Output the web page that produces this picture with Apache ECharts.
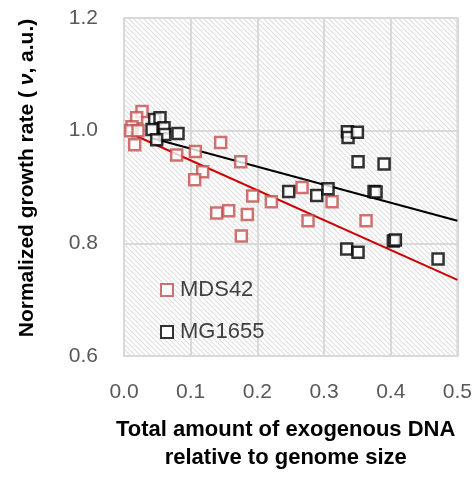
<!DOCTYPE html>
<html>
<head>
<meta charset="utf-8">
<script src="https://cdn.jsdelivr.net/npm/echarts@6/dist/echarts.min.js"></script>
<style>
  html, body { margin: 0; padding: 0; background: #fff; }
  #chart { width: 475px; height: 480px; }
</style>
</head>
<body>
<div id="chart"></div>
<script>
// MDS42 points [exogenous DNA fraction, normalized growth rate]
const mds42Points = [
  [0.027, 1.034], [0.019, 1.023], [0.012, 1.007], [0.010, 1.000], [0.021, 1.000],
  [0.016, 0.975], [0.079, 0.957], [0.107, 0.963], [0.145, 0.979], [0.175, 0.945],
  [0.118, 0.927], [0.106, 0.913], [0.193, 0.884], [0.221, 0.874], [0.139, 0.854],
  [0.157, 0.858], [0.185, 0.851], [0.176, 0.813], [0.267, 0.899], [0.312, 0.874],
  [0.276, 0.840], [0.363, 0.840]
]
// MG1655 points
const mg1655Points = [
  [0.046, 1.020], [0.054, 1.023], [0.042, 1.002], [0.060, 1.005], [0.061, 0.993],
  [0.081, 0.995], [0.049, 0.984], [0.335, 0.998], [0.336, 0.988], [0.350, 0.997],
  [0.351, 0.945], [0.390, 0.941], [0.247, 0.892], [0.289, 0.885], [0.306, 0.897],
  [0.375, 0.892], [0.378, 0.891], [0.404, 0.804], [0.407, 0.806], [0.334, 0.790],
  [0.351, 0.784], [0.471, 0.772]
]
// linear trend lines (end points)
const mds42Trend = [[0.010, 0.995], [0.5, 0.735]]
const mg1655Trend = [[0.041, 0.987], [0.5, 0.840]]

const xTicks = [0, 0.1, 0.2, 0.3, 0.4, 0.5]
const yTicks = [0.6, 0.8, 1.0, 1.2]

// hatched plot background
const makeHatch = () => {
  const s = 5
  const c = document.createElement('canvas')
  c.width = s
  c.height = s
  const ctx = c.getContext('2d')
  ctx.fillStyle = '#fff'
  ctx.fillRect(0, 0, s, s)
  ctx.strokeStyle = '#dedede'
  ctx.lineWidth = 1.1
  ctx.beginPath()
  ctx.moveTo(-1, -1); ctx.lineTo(s + 1, s + 1)
  ctx.moveTo(-1, s - 1); ctx.lineTo(1, s + 1)
  ctx.moveTo(s - 1, -1); ctx.lineTo(s + 1, 1)
  ctx.stroke()
  return c
}

const myChart = echarts.init(document.getElementById('chart'), null, { renderer: 'canvas' })

const options = {
  animation: false,
  textStyle: { fontFamily: 'Liberation Sans, Arial, sans-serif' },
  grid: {
    left: 124,
    right: 16,
    top: 18,
    bottom: 124,
    show: true,
    backgroundColor: { image: makeHatch(), repeat: 'repeat' },
    borderColor: '#d9d9d9',
    borderWidth: 2
  },
  legend: {
    orient: 'vertical',
    left: 155,
    top: 274,
    itemGap: 20,
    itemWidth: 12,
    itemHeight: 12,
    icon: 'rect',
    textStyle: { fontSize: 22, color: '#404040', padding: [0, 0, 0, 2] },
    data: ['MDS42', 'MG1655']
  },
  xAxis: {
    type: 'value',
    min: xTicks[0],
    max: xTicks[xTicks.length - 1],
    interval: 0.1,
    name: 'Total amount of exogenous DNA\nrelative to genome size',
    nameLocation: 'middle',
    nameGap: 60,
    nameMoveOverlap: false,
    nameTextStyle: {
      fontSize: 22,
      fontWeight: 'bold',
      color: '#000',
      lineHeight: 28,
      padding: [0, 10, 0, 0]
    },
    axisLine: { show: false },
    axisTick: { show: false },
    axisLabel: {
      color: '#595959',
      fontSize: 21,
      margin: 26,
      formatter: (v) => v.toFixed(1)
    },
    splitLine: { show: true, lineStyle: { color: '#d9d9d9', width: 2 } }
  },
  yAxis: {
    type: 'value',
    min: yTicks[0],
    max: yTicks[yTicks.length - 1],
    interval: 0.2,
    name: 'Normalized growth rate ( {i|ν}, a.u.)',
    nameLocation: 'middle',
    nameGap: 86,
    nameMoveOverlap: false,
    nameTextStyle: {
      fontSize: 21,
      fontWeight: 'bold',
      color: '#000',
      padding: [0, 0, 0, 18],
      rich: { i: { fontSize: 21, fontWeight: 'bold', fontStyle: 'italic', color: '#000' } }
    },
    axisLine: { show: false },
    axisTick: { show: false },
    axisLabel: {
      color: '#595959',
      fontSize: 21,
      margin: 26,
      formatter: (v) => v.toFixed(1)
    },
    splitLine: { show: true, lineStyle: { color: '#d9d9d9', width: 2 } }
  },
  series: [
    {
      name: 'MDS42 trend',
      type: 'line',
      data: mds42Trend,
      symbol: 'none',
      silent: true,
      z: 1,
      lineStyle: { color: '#cc0000', width: 2 }
    },
    {
      name: 'MG1655 trend',
      type: 'line',
      data: mg1655Trend,
      symbol: 'none',
      silent: true,
      z: 1,
      lineStyle: { color: '#000', width: 2 }
    },
    {
      name: 'MDS42',
      type: 'scatter',
      data: mds42Points,
      symbol: 'rect',
      symbolSize: 11,
      z: 2,
      itemStyle: { color: '#fff', borderColor: '#c0504d', borderWidth: 2.5 }
    },
    {
      name: 'MG1655',
      type: 'scatter',
      data: mg1655Points,
      symbol: 'rect',
      symbolSize: 11,
      z: 3,
      itemStyle: { color: '#fff', borderColor: '#000', borderWidth: 2.5 }
    }
  ]
}
myChart.setOption(options)
</script>
</body>
</html>
